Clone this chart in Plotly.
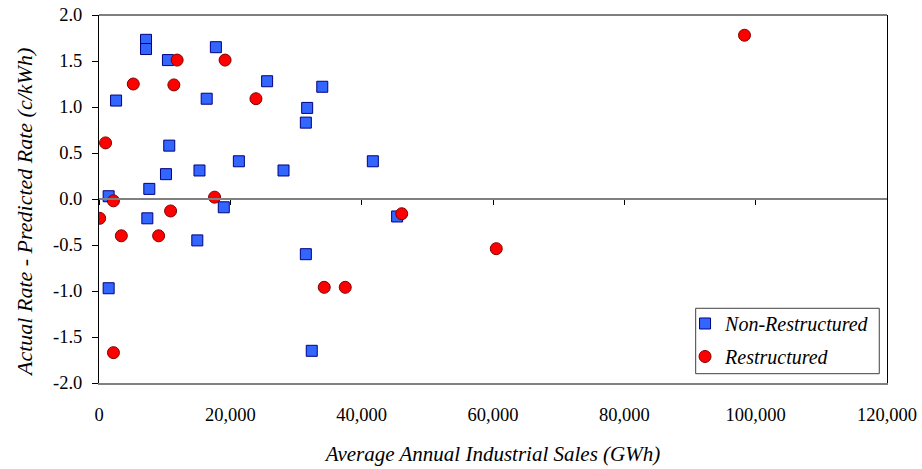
import plotly.graph_objects as go

# Non-Restructured (blue squares)
nr_sales = [7160, 7160, 10500, 17800, 2600, 25600, 16400, 34000, 31700, 31500,
            10700, 21300, 41700, 15300, 28100, 10200, 7660, 1470, 19000, 7360,
            45400, 14970, 31500, 1470, 32400]
nr_diff = [1.73, 1.63, 1.51, 1.65, 1.07, 1.28, 1.09, 1.22, 0.99, 0.83,
           0.58, 0.41, 0.41, 0.31, 0.31, 0.27, 0.11, 0.03, -0.09, -0.21,
           -0.19, -0.45, -0.60, -0.97, -1.65]

# Restructured (red circles)
r_sales = [11900, 19200, 5220, 11400, 23900, 1000, 17600, 2200, 100, 10900,
           46100, 3400, 9080, 34300, 37500, 2200, 60500, 98300]
r_diff = [1.51, 1.51, 1.25, 1.24, 1.09, 0.61, 0.02, -0.02, -0.21, -0.13,
          -0.16, -0.40, -0.40, -0.96, -0.96, -1.67, -0.54, 1.78]

x_ticks = [0, 20000, 40000, 60000, 80000, 100000, 120000]
x_tick_labels = ["0", "20,000", "40,000", "60,000", "80,000", "100,000", "120,000"]
y_ticks = [-2.0, -1.5, -1.0, -0.5, 0.0, 0.5, 1.0, 1.5, 2.0]
y_tick_labels = ["-2.0", "-1.5", "-1.0", "-0.5", "0.0", "0.5", "1.0", "1.5", "2.0"]

FONT = '"Liberation Serif", "DejaVu Serif", "Times New Roman", serif'

fig = go.Figure()
fig.add_trace(go.Scatter(
    x=nr_sales, y=nr_diff, mode="markers", name="Non-Restructured",
    legendgroup="a",
    marker=dict(symbol="square", size=11, color="#3366FF",
                line=dict(color="#000080", width=1))))
fig.add_trace(go.Scatter(
    x=r_sales, y=r_diff, mode="markers", name="Restructured",
    legendgroup="b",
    marker=dict(symbol="circle", size=12, color="#FF0000",
                line=dict(color="#800000", width=1))))
# helper trace to realise the zero-crossing axis
fig.add_trace(go.Scatter(x=[None], y=[None], xaxis="x2", showlegend=False,
                         hoverinfo="skip"))

fig.update_layout(
    width=922, height=469,
    margin=dict(l=99, r=35, t=15, b=86),
    paper_bgcolor="white", plot_bgcolor="white",
    font=dict(family=FONT, size=18.5, color="black"),
    showlegend=True,
    legend=dict(x=0.7437, y=0.2147, xanchor="left", yanchor="top",
                bgcolor="rgba(0,0,0,0)", borderwidth=0,
                font=dict(family=FONT, size=20, style="italic"),
                traceorder="grouped", tracegroupgap=4),
    xaxis=dict(range=[0, 120000], tickvals=x_ticks, ticktext=x_tick_labels,
               showgrid=False, zeroline=False, showline=True, automargin=False,
               linecolor="#808080", linewidth=2, ticks="",
               ticklabelstandoff=14, ticklabeloverflow="allow",
               title=dict(text="Average Annual Industrial Sales (GWh)",
                          font=dict(family=FONT, size=21, style="italic"),
                          standoff=22)),
    xaxis2=dict(range=[0, 120000], overlaying="x", anchor="free", position=0.5,
                tickvals=x_ticks, showticklabels=False, showgrid=False,
                automargin=False,
                zeroline=False, showline=True, linecolor="#808080", linewidth=2,
                ticks="outside", ticklen=5, tickcolor="black", tickwidth=1),
    yaxis=dict(range=[-2, 2], tickvals=y_ticks, ticktext=y_tick_labels,
               showgrid=False, zeroline=False, showline=True, automargin=False,
               linecolor="black", linewidth=1, mirror=True,
               ticks="outside", ticklen=6, tickcolor="black",
               ticklabelstandoff=6, ticklabeloverflow="allow"),
    annotations=[dict(text="Actual Rate - Predicted Rate (c/kWh)",
                      xref="paper", yref="paper", x=0, y=0.462, xshift=-74,
                      xanchor="center", yanchor="middle", textangle=-90,
                      showarrow=False,
                      font=dict(family=FONT, size=22, style="italic"))],
    shapes=[dict(type="line", xref="paper", yref="paper", x0=0, x1=1, y0=1, y1=1,
                 line=dict(color="black", width=1)),
            dict(type="rect", xref="paper", yref="paper",
                 x0=0.7572, x1=0.9902, y0=0.0253, y1=0.2030,
                 fillcolor="white", line=dict(color="#404040", width=1),
                 layer="above")],
)

fig.write_html("out.html",
               config={"displayModeBar": False},
               post_script="document.body.style.margin='0';"
                           "document.body.style.overflow='hidden';")
